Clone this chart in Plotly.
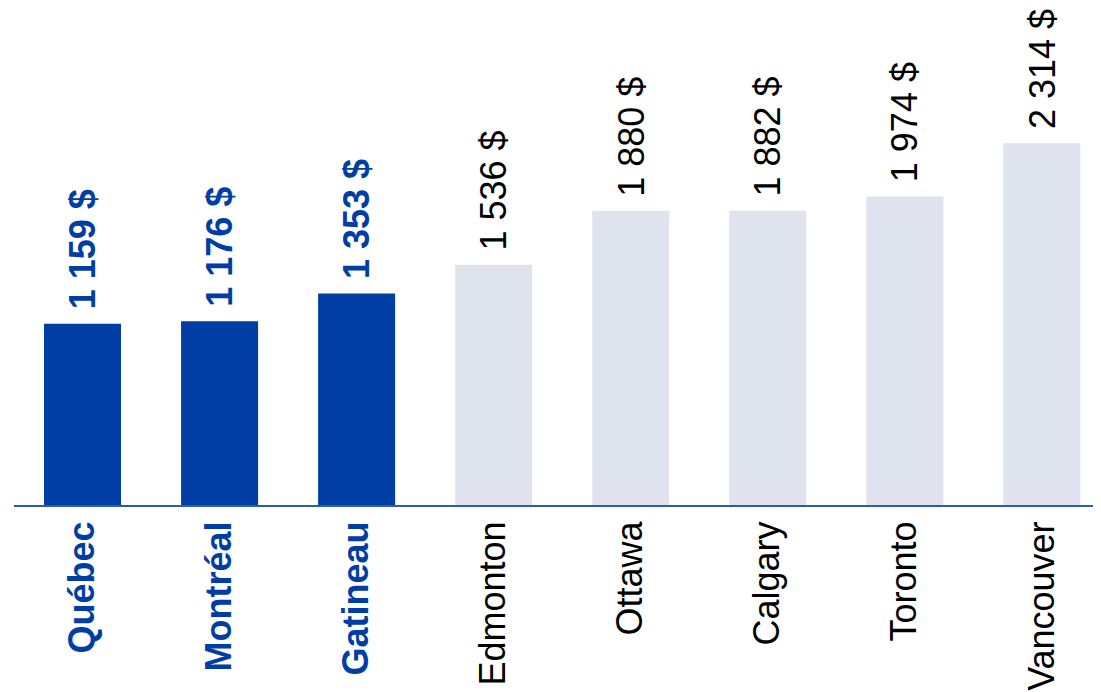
import plotly.graph_objects as go

villes = ["Québec", "Montréal", "Gatineau", "Edmonton", "Ottawa", "Calgary", "Toronto", "Vancouver"]
loyers = [1159, 1176, 1353, 1536, 1880, 1882, 1974, 2314]
quebec = [True, True, True, False, False, False, False, False]

BLEU = "#003DA5"
GRIS = "#DEE3ED"
POLICE = "Liberation Sans, Arial"


def fmt(v):
    return f"{v:,}".replace(",", " ") + " $"


couleurs = [BLEU if q else GRIS for q in quebec]
ticks = [f"<b><span style='color:{BLEU}'>{c}</span></b>" if q else c for c, q in zip(villes, quebec)]

fig = go.Figure(
    go.Bar(
        x=villes,
        y=loyers,
        marker=dict(color=couleurs, line=dict(width=0)),
        hoverinfo="skip",
    )
)

# étiquettes de valeurs au-dessus des barres
for c, v, q in zip(villes, loyers, quebec):
    fig.add_annotation(
        x=c, y=v,
        text=f"<b>{fmt(v)}</b>" if q else fmt(v),
        textangle=-90,
        showarrow=False,
        xanchor="center", yanchor="bottom",
        yshift=12,
        font=dict(family=POLICE, size=36, color=BLEU if q else "black"),
    )

# la page ajoute une marge de 8 px : on compense
fig.update_layout(
    width=1101,
    height=692,
    margin=dict(l=6, r=0, t=0, b=195),
    paper_bgcolor="white",
    plot_bgcolor="white",
    bargap=0.438,
    showlegend=False,
    font=dict(family=POLICE, size=36, color="black"),
    xaxis=dict(
        range=[-0.5, 7.49],
        tickmode="array",
        tickvals=villes,
        ticktext=ticks,
        tickangle=-90,
        showline=True,
        linecolor="#2F5BA8",
        linewidth=2,
        ticks="",
        showgrid=False,
        fixedrange=True,
    ),
    yaxis=dict(range=[0, 3179], visible=False, showgrid=False, zeroline=False, fixedrange=True),
)

fig.write_html("out.html", config={"displayModeBar": False})
